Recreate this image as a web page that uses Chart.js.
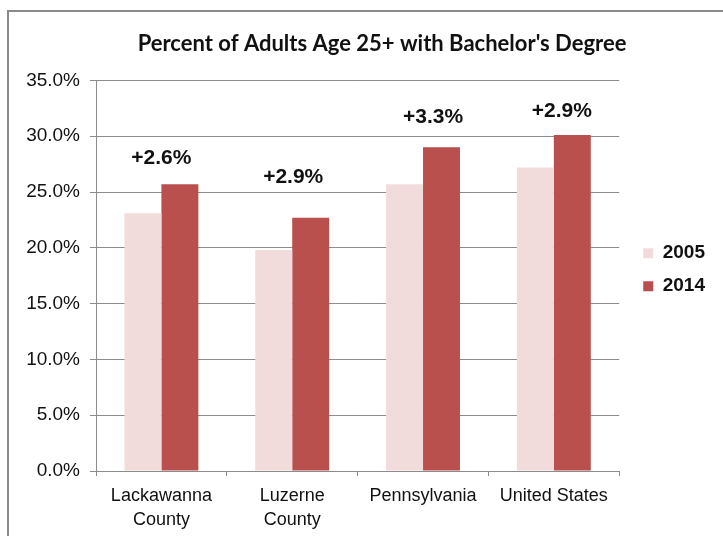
<!DOCTYPE html>
<html>
<head>
<meta charset="utf-8">
<script src="https://cdn.jsdelivr.net/npm/chart.js@4.4.1/dist/chart.umd.min.js"></script>
<style>
    html, body { margin: 0; padding: 0; background: #fff; overflow: hidden; width: 723px; height: 536px; }
    #frame { position: absolute; left: 7px; top: 10px; width: 760px; height: 560px;
             border-left: 2px solid #8a8a8a; border-top: 2px solid #8a8a8a; background: #fff; }
    #graph { display: block; }
</style>
</head>
<body>
<div id="frame"><canvas id="graph" width="746" height="540"></canvas></div>
<script>
const categories = [["Lackawanna", "County"], ["Luzerne", "County"], "Pennsylvania", "United States"];
const years = ["2005", "2014"];
const values2005 = [23.1, 19.8, 25.7, 27.2];
const values2014 = [25.7, 22.7, 29.0, 30.1];
const changeLabels = ["+2.6%", "+2.9%", "+3.3%", "+2.9%"];
const yTicks = [0, 5, 10, 15, 20, 25, 30, 35];

const textColor = "#111";
const lineColor = "#8c8c8c";

// the change labels sit above the 2014 bars, nudged by hand like in the original
const changePlugin = {
    id: "changeLabels",
    afterLayout(chart, args, opts) {
        // legend and title in the original are not where chart.js would put them
        const [dx, dy] = opts.legendShift;
        chart.legend.left += dx;
        chart.legend.right += dx;
        chart.legend.top += dy;
        chart.legend.bottom += dy;
        chart.titleBlock.left += opts.titleShift;
        chart.titleBlock.right += opts.titleShift;
    },
    afterDatasetsDraw(chart, args, opts) {
        const {ctx} = chart;
        const meta = chart.getDatasetMeta(1);
        const x = chart.scales.x;
        ctx.save();
        ctx.font = "bold 21px 'Liberation Sans', Arial, sans-serif";
        ctx.fillStyle = textColor;
        ctx.textAlign = "center";
        ctx.textBaseline = "middle";
        changeLabels.forEach((label, i) => {
            const bar = meta.data[i];
            const [dx, dy] = opts.offsets[i];
            ctx.fillText(label, x.getPixelForValue(i) + dx, bar.y - dy);
        });
        ctx.restore();
    }
};

new Chart(document.querySelector("#graph"), {
    type: "bar",
    data: {
        labels: categories,
        datasets: [
            {label: years[0], data: values2005, backgroundColor: "#f2dcdb", categoryPercentage: 0.565, barPercentage: 1},
            {label: years[1], data: values2014, backgroundColor: "#b9504e", categoryPercentage: 0.565, barPercentage: 1}
        ]
    },
    options: {
        responsive: false,
        animation: false,
        layout: {padding: {left: 0, right: 50, top: 0, bottom: 11}},
        plugins: {
            title: {
                display: true,
                text: "Percent of Adults Age 25+ with Bachelor's Degree",
                color: textColor,
                font: {family: "Lato, 'Open Sans', sans-serif", size: 22, weight: "bold"},
                padding: {top: 19, bottom: 23}
            },
            legend: {
                position: "right",
                fullSize: false,
                labels: {
                    color: textColor,
                    boxWidth: 10,
                    boxHeight: 10,
                    padding: 14,
                    font: {family: "'Liberation Sans', Arial, sans-serif", size: 19, weight: "bold"}
                }
            },
            tooltip: {enabled: false},
            changeLabels: {
                offsets: [[0, 26], [1, 40], [10, 30], [8, 24]],
                legendShift: [10, -6],
                titleShift: 25
            }
        },
        scales: {
            x: {
                grid: {drawOnChartArea: false, color: lineColor, tickLength: 5, offset: true},
                border: {color: lineColor},
                ticks: {
                    color: textColor,
                    padding: 9,
                    maxRotation: 0,
                    font: {family: "'Liberation Sans', Arial, sans-serif", size: 18, lineHeight: 1.28}
                },
                afterFit: scale => { scale.height = 70; }
            },
            y: {
                min: 0,
                max: 35,
                afterBuildTicks: scale => { scale.ticks = yTicks.map(v => ({value: v})); },
                grid: {color: lineColor, tickLength: 6},
                border: {color: lineColor},
                ticks: {
                    color: textColor,
                    padding: 10,
                    font: {family: "'Liberation Sans', Arial, sans-serif", size: 19},
                    callback: v => v.toFixed(1) + "%"
                },
                afterFit: scale => { scale.width = 87; }
            }
        }
    },
    plugins: [changePlugin]
});
</script>
</body>
</html>
